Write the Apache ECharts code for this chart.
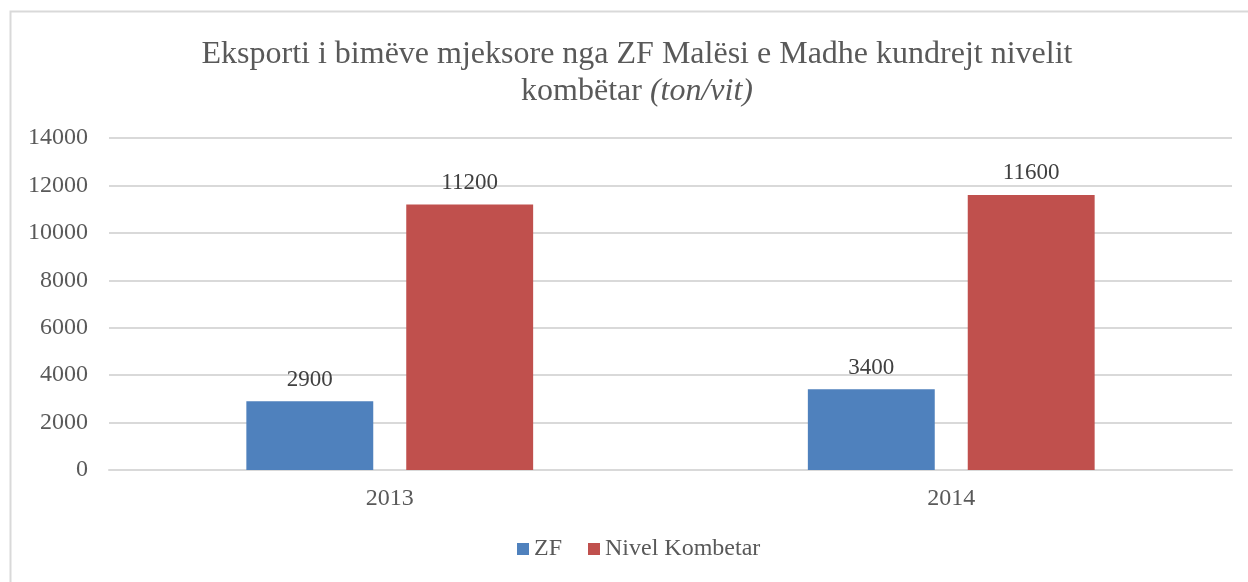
<!DOCTYPE html>
<html>
<head>
    <meta charset="UTF-8">
    <title>Eksporti i bimëve mjeksore</title>
    <script src="https://cdn.jsdelivr.net/npm/echarts@6/dist/echarts.min.js"></script>
    <style>
        html, body { margin: 0; padding: 0; background: #fff; }
        #main { width: 1248px; height: 582px; }
    </style>
</head>
<body>
<div id="main"></div>
<script type="text/javascript">
    var years = ['2013', '2014'];
    var zfData = [2900, 3400];
    var kombetarData = [11200, 11600];
    var seriesNames = ['ZF', 'Nivel Kombetar'];

    var font = '"Liberation Serif", "Times New Roman", serif';
    var textColor = '#595959';

    var myChart = echarts.init(document.getElementById('main'));

    var option = {
        backgroundColor: '#fff',
        animation: false,
        textStyle: { fontFamily: font },
        graphic: [{
            type: 'rect',
            shape: { x: 10.5, y: 11.5, width: 1300, height: 700 },
            style: { fill: 'none', stroke: '#d9d9d9', lineWidth: 2 },
            silent: true
        }],
        title: {
            // chart frame starts at x=10, so the centre sits a bit right of the page centre
            left: 632,
            top: 31,
            textAlign: 'center',
            text: 'Eksporti i bimëve mjeksore nga ZF Malësi e Madhe kundrejt nivelit\nkombëtar {i|(ton/vit)}',
            textStyle: {
                fontFamily: font,
                fontWeight: 'normal',
                fontSize: 32,
                color: textColor,
                lineHeight: 37,
                rich: {
                    i: { fontFamily: font, fontStyle: 'italic', fontSize: 32, color: textColor, lineHeight: 37 }
                }
            }
        },
        legend: {
            bottom: 16,
            left: 512,
            itemWidth: 12,
            itemHeight: 12,
            itemGap: 26,
            icon: 'rect',
            textStyle: { fontFamily: font, fontSize: 24, color: textColor },
            data: seriesNames
        },
        grid: { left: 109, right: 16, top: 138, bottom: 112 },
        xAxis: {
            type: 'category',
            data: years,
            axisLine: { lineStyle: { color: '#d9d9d9', width: 2 } },
            axisTick: { show: false },
            axisLabel: { fontFamily: font, fontSize: 24, color: textColor, margin: 17 }
        },
        yAxis: {
            type: 'value',
            min: 0,
            max: 14000,
            interval: 2000,
            axisLine: { show: false },
            axisTick: { show: false },
            axisLabel: {
                fontFamily: font, fontSize: 24, color: textColor, margin: 21,
                formatter: function (v) { return String(v); }
            },
            splitLine: { lineStyle: { color: '#d9d9d9', width: 2 } }
        },
        series: [{
            name: seriesNames[0],
            type: 'bar',
            data: zfData,
            barWidth: '22.6%',
            barGap: '26%',
            itemStyle: { color: '#4F81BD' },
            label: { show: true, position: 'top', distance: 10, fontFamily: font, fontSize: 23, color: '#404040' }
        }, {
            name: seriesNames[1],
            type: 'bar',
            data: kombetarData,
            barWidth: '22.6%',
            itemStyle: { color: '#C0504D' },
            label: { show: true, position: 'top', distance: 10, fontFamily: font, fontSize: 23, color: '#404040' }
        }]
    };
    myChart.setOption(option);
</script>
</body>
</html>
